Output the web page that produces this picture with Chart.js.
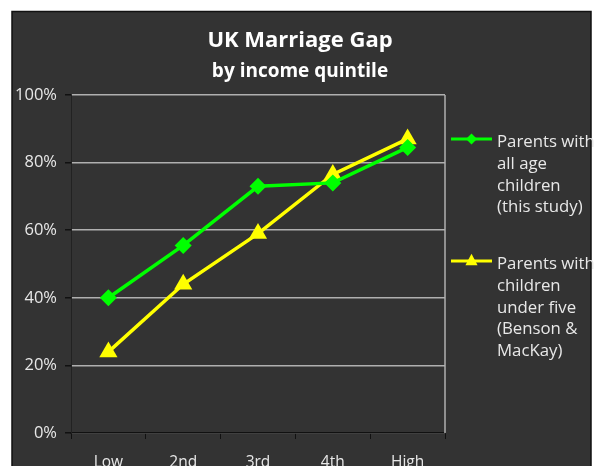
<!DOCTYPE html>
<html lang="en">
<head>
    <meta charset="UTF-8">
    <title>UK Marriage Gap</title>
    <style>
        body { margin: 0; background: #fff; }
    </style>
</head>
<body>
    <canvas id="myChart" width="597" height="466"></canvas>

<script src="https://cdn.jsdelivr.net/npm/chart.js"></script>
<script>
// data
const quintiles = ['Low', '2nd', '3rd', '4th', 'High']
const allAgeChildren = [40, 55.5, 73, 74, 84.5]
const underFive = [24, 44, 59, 76.5, 87]
const yTicks = [0, 20, 40, 60, 80, 100]
const seriesNames = [
    ['Parents with', 'all age', 'children', '(this study)'],
    ['Parents with', 'children', 'under five', '(Benson &', 'MacKay)']
]
const titleText = 'UK Marriage Gap'
const subtitleText = 'by income quintile'

const FONT = '"Open Sans", sans-serif'
const gridColor = '#b0b0b0'
const textColor = '#e8e8e8'

// panel, titles and the right edge of the plot
const backdrop = {
    id: 'backdrop',
    beforeDraw(chart) {
        const { ctx, width, height } = chart
        ctx.save()
        ctx.fillStyle = '#ffffff'
        ctx.fillRect(0, 0, width, height)
        ctx.fillStyle = '#333333'
        ctx.fillRect(12, 11, 579, height)
        ctx.strokeStyle = '#111'
        ctx.lineWidth = 1.5
        ctx.strokeRect(12, 11.5, 579, height + 5)

        ctx.fillStyle = '#ffffff'
        ctx.textAlign = 'center'
        ctx.textBaseline = 'alphabetic'
        ctx.font = 'bold 22px ' + FONT
        ctx.fillText(titleText, 300, 47)
        ctx.font = 'bold 19px ' + FONT
        ctx.fillText(subtitleText, 300, 77)
        ctx.restore()
    },
    beforeDatasetsDraw(chart) {
        const { ctx, chartArea: { top, bottom, right } } = chart
        ctx.save()
        ctx.strokeStyle = gridColor
        ctx.lineWidth = 1.5
        ctx.beginPath()
        ctx.moveTo(right, top)
        ctx.lineTo(right, bottom)
        ctx.stroke()
        ctx.restore()
    }
}

// legend with wrapped labels on the right
const sideLegend = {
    id: 'sideLegend',
    afterDraw(chart) {
        const { ctx } = chart
        const rows = [139, 261]
        ctx.save()
        chart.data.datasets.forEach((ds, i) => {
            const y = rows[i]
            ctx.strokeStyle = ds.borderColor
            ctx.lineWidth = 3
            ctx.beginPath()
            ctx.moveTo(451, y)
            ctx.lineTo(492, y)
            ctx.stroke()
            ctx.fillStyle = ds.backgroundColor
            ctx.beginPath()
            if (ds.pointStyle === 'rectRot') {
                const r = 5.5
                ctx.moveTo(471.5 - r, y)
                ctx.lineTo(471.5, y - r)
                ctx.lineTo(471.5 + r, y)
                ctx.lineTo(471.5, y + r)
            } else {
                const r = 7
                ctx.moveTo(471.5, y - r * 1.05)
                ctx.lineTo(471.5 + r * 0.87, y + r * 0.6)
                ctx.lineTo(471.5 - r * 0.87, y + r * 0.6)
            }
            ctx.closePath()
            ctx.fill()

            ctx.fillStyle = textColor
            ctx.font = '16.8px ' + FONT
            ctx.textAlign = 'left'
            ctx.textBaseline = 'alphabetic'
            seriesNames[i].forEach((line, j) => {
                ctx.fillText(line, 497, y + 8 + j * 21.8)
            })
        })
        ctx.restore()
    }
}

const ctx = document.getElementById('myChart')
const chart = new Chart(ctx, {
    type: 'line',
    data: {
        labels: quintiles,
        datasets: [
            {
                label: seriesNames[0].join(' '),
                data: allAgeChildren,
                borderColor: '#00ff00',
                backgroundColor: '#00ff00',
                borderWidth: 3.5,
                pointStyle: 'rectRot',
                pointRadius: 8.5,
                pointBorderWidth: 0,
                tension: 0
            },
            {
                label: seriesNames[1].join(' '),
                data: underFive,
                borderColor: '#ffff00',
                backgroundColor: '#ffff00',
                borderWidth: 3.5,
                pointStyle: 'triangle',
                pointRadius: 10.5,
                pointBorderWidth: 0,
                tension: 0
            }
        ]
    },
    options: {
        responsive: false,
        animation: false,
        devicePixelRatio: 1,
        layout: {
            padding: { top: 95, left: 0, right: 152, bottom: 0 }
        },
        plugins: {
            legend: { display: false },
            tooltip: { enabled: false }
        },
        scales: {
            x: {
                offset: true,
                grid: {
                    drawOnChartArea: false,
                    drawTicks: true,
                    tickLength: 6,
                    tickColor: '#111',
                    offset: true
                },
                border: { color: '#111', width: 1.5 },
                ticks: {
                    color: textColor,
                    font: { family: FONT, size: 15.5 },
                    padding: 14,
                    maxRotation: 0
                },
                afterFit(scale) { scale.height = 33 }
            },
            y: {
                min: 0,
                max: 100,
                afterBuildTicks(scale) {
                    scale.ticks = yTicks.map(v => ({ value: v }))
                },
                grid: {
                    color: gridColor,
                    lineWidth: 1.5,
                    tickLength: 6,
                    tickColor: '#111'
                },
                border: { color: '#222', width: 1 },
                ticks: {
                    color: textColor,
                    font: { family: FONT, size: 16.5 },
                    padding: 8,
                    callback: v => v + '%'
                },
                afterFit(scale) { scale.width = 71 }
            }
        }
    },
    plugins: [backdrop, sideLegend]
})
</script>
</body>
</html>
